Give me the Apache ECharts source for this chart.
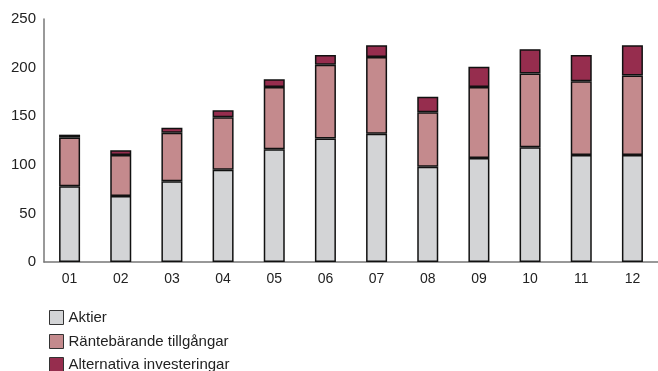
<!DOCTYPE html>
<html>
<head>
<meta charset="utf-8">
<script src="https://cdn.jsdelivr.net/npm/echarts@6/dist/echarts.min.js"></script>
<style>
html, body { margin: 0; padding: 0; background: #fff; }
#chart { width: 658px; height: 371px; }
</style>
</head>
<body>
<div id="chart"></div>
<script>
var months = ['01', '02', '03', '04', '05', '06', '07', '08', '09', '10', '11', '12'];
var aktier = [78, 68, 83, 95, 116, 127, 132, 98, 107, 118, 110, 110];
var rantebarande = [50, 42, 50, 54, 64, 76, 79, 56, 73, 76, 76, 82];
var alternativa = [3, 5, 5, 7, 8, 10, 12, 16, 21, 25, 27, 31];
var seriesNames = ['Aktier', 'Räntebärande tillgångar', 'Alternativa investeringar'];
var yTicks = [0, 50, 100, 150, 200, 250];

var chart = echarts.init(document.getElementById('chart'));

function barSeries(name, values, color) {
	return {
		name : name,
		type : 'bar',
		stack : 'total',
		barWidth : 21,
		data : values,
		itemStyle : {
			color : color,
			borderColor : '#111',
			borderWidth : 1.5
		}
	};
}

// one legend per row, the last row runs off the bottom like the original
function legendRow(name, top) {
	return {
		orient : 'vertical',
		left : 44,
		top : top,
		itemWidth : 14,
		itemHeight : 14,
		icon : 'rect',
		textStyle : { fontSize : 15, color : '#222', fontFamily : 'Liberation Sans' },
		itemStyle : { borderColor : '#333', borderWidth : 1 },
		data : [name]
	};
}

var option = {
	animation : false,
	textStyle : { fontFamily : 'Liberation Sans' },
	grid : {
		left : 44,
		top : 19,
		width : 620,
		height : 243
	},
	legend : [
		legendRow(seriesNames[0], 305),
		legendRow(seriesNames[1], 329),
		legendRow(seriesNames[2], 352)
	],
	xAxis : {
		type : 'category',
		data : months,
		axisLine : { lineStyle : { color : '#777', width : 1.5 } },
		axisTick : { show : false },
		axisLabel : { fontSize : 14, color : '#222', margin : 10 }
	},
	yAxis : {
		type : 'value',
		min : yTicks[0],
		max : yTicks[yTicks.length - 1],
		interval : 50,
		axisLine : { show : true, lineStyle : { color : '#777', width : 1.5 } },
		axisTick : { show : false },
		splitLine : { show : false },
		axisLabel : { fontSize : 15, color : '#222', margin : 8 }
	},
	series : [
		barSeries(seriesNames[0], aktier, '#d3d4d6'),
		barSeries(seriesNames[1], rantebarande, '#c48a8d'),
		barSeries(seriesNames[2], alternativa, '#962d4e')
	]
};
chart.setOption(option);
window.onresize = chart.resize;
</script>
</body>
</html>
